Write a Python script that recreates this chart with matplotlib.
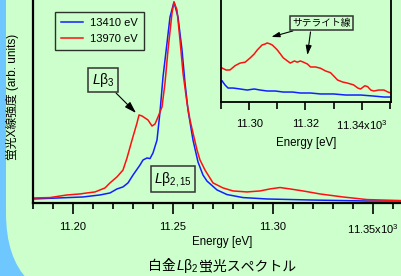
import matplotlib
matplotlib.use('Agg')
import matplotlib.pyplot as plt
from matplotlib.patches import FancyBboxPatch
from matplotlib.ticker import FixedLocator, MultipleLocator

plt.rcParams.update({
    'font.family': ['Liberation Sans', 'Noto Sans CJK JP'],
    'mathtext.fontset': 'custom',
    'mathtext.rm': 'Liberation Sans',
    'mathtext.it': 'Liberation Sans:italic',
    'font.size': 8,
})

# Main spectrum (energy in eV, normalized intensity)
red_e = [11180, 11188.5, 11197, 11203.5, 11207, 11211, 11213.5, 11216, 11218.5, 11222,
         11225, 11227, 11229.5, 11232, 11233, 11234.5, 11236, 11237.5, 11239.5, 11241,
         11242.5, 11244.5, 11246, 11247.5, 11249.5, 11250.5, 11252, 11253.5, 11255, 11257,
         11258.5, 11260, 11262, 11263.5, 11266, 11268.5, 11270, 11275, 11280, 11287,
         11293.5, 11298.5, 11303.5, 11308.5, 11315, 11323.5, 11335, 11347, 11364.5]
red_i = [0.025, 0.027, 0.040, 0.045, 0.050, 0.055, 0.065, 0.075, 0.100, 0.130,
         0.164, 0.224, 0.313, 0.398, 0.438, 0.433, 0.423, 0.413, 0.383, 0.393,
         0.428, 0.478, 0.597, 0.761, 0.945, 1.000, 0.960, 0.811, 0.647, 0.498,
         0.413, 0.348, 0.264, 0.214, 0.164, 0.124, 0.100, 0.075, 0.060, 0.055,
         0.060, 0.070, 0.077, 0.070, 0.060, 0.045, 0.030, 0.017, 0.012]

blue_e = [11180, 11205, 11213.5, 11218.5, 11222, 11225, 11227.5, 11230, 11233.5, 11235,
          11237, 11238.5, 11240, 11242, 11243.5, 11245, 11247, 11248.5, 11250.5, 11252.5,
          11254.5, 11256, 11257.5, 11260, 11262.5, 11265, 11267, 11272, 11277, 11285,
          11297, 11318.5, 11347, 11364.5]
blue_i = [0.020, 0.030, 0.040, 0.050, 0.070, 0.080, 0.100, 0.139, 0.189, 0.214,
          0.224, 0.221, 0.249, 0.313, 0.453, 0.627, 0.796, 0.925, 1.000, 0.925,
          0.761, 0.597, 0.463, 0.313, 0.204, 0.139, 0.109, 0.065, 0.042, 0.027,
          0.020, 0.015, 0.010, 0.010]

# Inset: satellite region
ins_red_e = [11290.4, 11291.8, 11293.2, 11295, 11296.8, 11298.6, 11300.4, 11301.8, 11302.9, 11304.6,
             11305.7, 11306.4, 11307.5, 11308.2, 11309.3, 11310, 11311.1, 11312.1, 11313.6, 11314.6,
             11316.1, 11317.1, 11318.2, 11319.3, 11320.7, 11321.8, 11323.6, 11325.4, 11327.1, 11328.9,
             11330.4, 11331.4, 11333.2, 11335, 11337.1, 11338.6, 11339.6, 11341.1, 11342.1, 11343.2,
             11344.3, 11346.1, 11347.9, 11349.3, 11350.4]
ins_red_i = [0.0463, 0.0440, 0.0441, 0.0490, 0.0520, 0.0530, 0.0580, 0.0624, 0.0670, 0.0727,
             0.0738, 0.0750, 0.0738, 0.0727, 0.0693, 0.0670, 0.0624, 0.0580, 0.0544, 0.0520,
             0.0544, 0.0530, 0.0544, 0.0530, 0.0509, 0.0475, 0.0475, 0.0460, 0.0430, 0.0410,
             0.0360, 0.0326, 0.0303, 0.0290, 0.0270, 0.0234, 0.0223, 0.0260, 0.0250, 0.0211,
             0.0200, 0.0211, 0.0211, 0.0188, 0.0177]
ins_blue_e = [11290.4, 11291.4, 11292.5, 11294.3, 11296.8, 11299.3, 11301.8, 11303.9, 11306.4, 11309.3,
              11312.1, 11315.4, 11318.2, 11321.8, 11325.4, 11330, 11334.3, 11339.6, 11343.9, 11347.9,
              11350.4]
ins_blue_i = [0.0315, 0.0270, 0.0234, 0.0234, 0.0223, 0.0211, 0.0223, 0.0211, 0.0200, 0.0200,
              0.0188, 0.0188, 0.0177, 0.0177, 0.0166, 0.0166, 0.0154, 0.0154, 0.0143, 0.0131,
              0.0131]

main_ticks = [11200, 11250, 11300, 11350]
main_ticklabels = ['11.20', '11.25', '11.30', r'11.35x10$^3$']
inset_ticks = [11300, 11320, 11340]
inset_ticklabels = ['11.30', '11.32', r'11.34x10$^3$']
title_parts = ['白金', r'$L\mathrm{\beta}_2$', '蛍光スペクトル']

RED = '#ff1010'
BLUE = '#1020ff'
GREEN = '#ccffcc'
SKY = '#6ec8ff'

W, H = 402, 276
fig = plt.figure(figsize=(W / 100, H / 100), dpi=100)
fig.patch.set_facecolor(SKY)
bg = FancyBboxPatch((0.06, -0.27), 6, 6, boxstyle='round,pad=0,rounding_size=0.9',
                    transform=fig.dpi_scale_trans, fc=GREEN, ec='none', zorder=-5)
fig.add_artist(bg)


def px_axes(l, t, r, b):
    return [l / W, 1 - b / H, (r - l) / W, (b - t) / H]


# main axes
ax = fig.add_axes(px_axes(33, 0, 402, 203))
ax.set_facecolor('none')
ax.plot(blue_e, blue_i, color=BLUE, lw=1.1, label='13410 eV')
ax.plot(red_e, red_i, color=RED, lw=1.1, label='13970 eV')
ax.set_xlim(11180, 11364.5)
ax.set_ylim(0, 1.01)
ax.set_yticks([])
ax.xaxis.set_major_locator(FixedLocator(main_ticks))
ax.set_xticklabels(main_ticklabels)
ax.xaxis.set_minor_locator(MultipleLocator(10))
ax.tick_params(axis='x', which='major', length=8, width=1.2, pad=6, labelsize=8)
ax.tick_params(axis='x', which='minor', length=4, width=1.2)
for s in ['top', 'right']:
    ax.spines[s].set_visible(False)
for s in ['left', 'bottom']:
    ax.spines[s].set_linewidth(1.6)

leg = ax.legend(loc='upper left', bbox_to_anchor=(55 / W, 1 - 12 / H),
                bbox_transform=fig.transFigure, frameon=True, fancybox=False,
                handlelength=2.0, handletextpad=0.6, borderpad=0.55, labelspacing=0.5,
                fontsize=8, borderaxespad=0)
leg.get_frame().set_edgecolor('black')
leg.get_frame().set_facecolor('none')
leg.get_frame().set_linewidth(1.0)

box = dict(boxstyle='square,pad=0.25', fc='none', ec='#333333', lw=1.1)
arrow = dict(arrowstyle='-|>,head_length=0.7,head_width=0.22', color='black', lw=0.8,
             shrinkA=0, shrinkB=0)
ax.annotate(r'$L\mathrm{\beta}_3$', xy=(11231.5, 0.448), xytext=(11215, 0.612),
            ha='center', va='center', fontsize=10, bbox=box, arrowprops=arrow)
ax.text(11250, 0.119, r'$L\mathrm{\beta}_{2,15}$', ha='center', va='center',
        fontsize=10, bbox=box)

# inset axes
ins = fig.add_axes(px_axes(221, 0, 391, 102))
ins.set_facecolor('none')
ins.plot(ins_blue_e, ins_blue_i, color=BLUE, lw=1.1)
ins.plot(ins_red_e, ins_red_i, color=RED, lw=1.1)
ins.set_xlim(11290, 11350.4)
ins.set_ylim(0.0074, 0.1242)
ins.set_yticks([])
ins.xaxis.set_major_locator(FixedLocator(inset_ticks))
ins.set_xticklabels(inset_ticklabels)
ins.xaxis.set_minor_locator(MultipleLocator(10))
ins.tick_params(axis='x', which='major', length=6, width=1.2, pad=6, labelsize=8)
ins.tick_params(axis='x', which='minor', length=5, width=1.2)
ins.spines['top'].set_visible(False)
for s in ['left', 'right', 'bottom']:
    ins.spines[s].set_linewidth(1.3)

ins.annotate('サテライト線', xy=(11307.9, 0.0819), xytext=(11325.7, 0.0979),
             ha='center', va='center', fontsize=7, bbox=box, arrowprops=arrow)
ins.annotate('', xy=(11320.7, 0.0612), xytext=(11321.8, 0.0876), arrowprops=arrow)

# labels
fig.text(12 / W, 1 - 97 / H, '蛍光X線強度 (arb. units)', rotation=90,
         ha='center', va='center', fontsize=8.5)
fig.text(222 / W, 1 - 242 / H, 'Energy [eV]', ha='center', va='center', fontsize=8.3)
fig.text(306 / W, 1 - 143 / H, 'Energy [eV]', ha='center', va='center', fontsize=8.3)

# title made of pieces so the CJK text keeps its font next to the math part
renderer = fig.canvas.get_renderer()
pieces = []
for part in title_parts:
    t = fig.text(0, 1 - 265 / H, part, ha='left', va='baseline', fontsize=10)
    pieces.append(t)
widths = [t.get_window_extent(renderer).width for t in pieces]
x0 = 222 - sum(widths) / 2
for t, w in zip(pieces, widths):
    t.set_x(x0 / W)
    x0 += w
for t in pieces:
    t.set_y(1 - 270 / H)

fig.savefig('out.png', dpi=100, facecolor=fig.get_facecolor())
